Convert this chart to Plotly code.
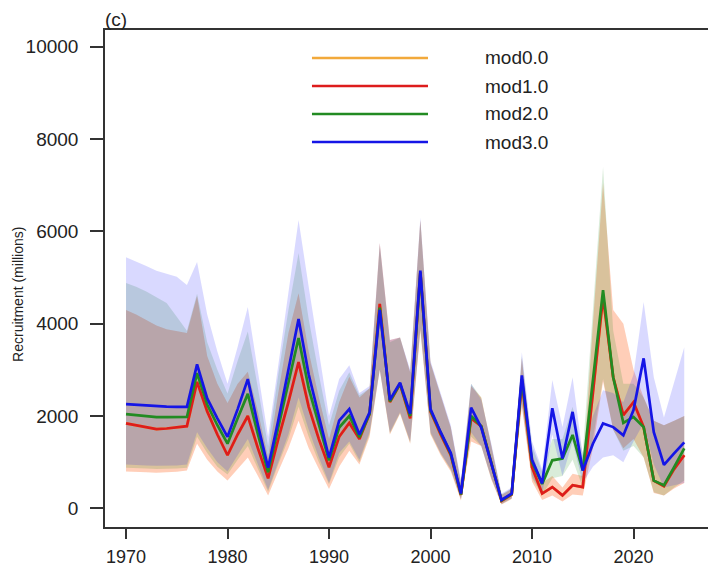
import plotly.graph_objects as go

years = list(range(1970, 2026))

# mod3.0 (blue)
mod3_mid = [2256, 2240, 2225, 2210, 2205, 2200, 2200, 3120, 2380, 1950,
            1550, 2150, 2800, 1800, 880, 1900, 3000, 4100, 2900, 2000,
            1100, 1900, 2150, 1600, 2080, 4300, 2350, 2720, 2050, 5150,
            2150, 1650, 1200, 320, 2180, 1750, 950, 180, 320, 2880,
            1050, 540, 2170, 1080, 2090, 820, 1400, 1840, 1760, 1580,
            2130, 3250, 1650, 940, 1190, 1430]
mod3_lo = [950, 940, 930, 920, 920, 930, 950, 1650, 1300, 1000,
           800, 1150, 1500, 950, 400, 1000, 1600, 2400, 1700, 1100,
           550, 1200, 1450, 1050, 1650, 3000, 1650, 2080, 1450, 3900,
           1650, 1200, 850, 200, 1650, 1350, 650, 100, 220, 2300,
           700, 300, 1600, 700, 1450, 550, 900, 1100, 1150, 1000,
           1450, 1850, 950, 450, 500, 550]
mod3_hi = [5440, 5350, 5250, 5150, 5080, 5020, 4840, 5340, 4200, 3400,
           2700, 3500, 4365, 2950, 1550, 3100, 4700, 6250, 4800, 3400,
           2000, 2800, 3100, 2500, 2650, 5750, 3650, 3700, 3000, 6300,
           3200, 2500, 1800, 600, 2700, 2350, 1400, 320, 450, 3380,
           1450, 850, 2780, 1760, 2840, 1150, 2000, 2560, 2500, 2300,
           2900, 4470, 2840, 1970, 2710, 3490]

# mod2.0 (green)
mod2_mid = [2040, 2020, 2000, 1975, 1975, 1978, 1980, 2930, 2250, 1800,
            1400, 1950, 2480, 1600, 780, 1750, 2750, 3690, 2600, 1800,
            1040, 1750, 2000, 1540, 2050, 4350, 2320, 2700, 2000, 5100,
            2120, 1640, 1180, 300, 2000, 1780, 960, 170, 310, 2800,
            1000, 530, 1040, 1080, 1590, 820, 2770, 4730, 2840, 1850,
            1980, 1760, 600, 500, 890, 1300]
mod2_lo = [880, 870, 860, 850, 850, 860, 880, 1550, 1200, 900,
           730, 1050, 1350, 850, 360, 950, 1500, 2200, 1550, 1000,
           520, 1100, 1400, 1000, 1600, 3000, 1620, 2060, 1420, 3880,
           1620, 1180, 830, 190, 1550, 1350, 640, 90, 210, 2250,
           650, 280, 650, 700, 1050, 450, 1500, 2800, 1700, 1250,
           1350, 1100, 350, 280, 450, 600]
mod2_hi = [4880, 4800, 4700, 4580, 4450, 4150, 3850, 4650, 3600, 3000,
           2490, 3200, 3830, 2600, 1350, 2900, 4300, 5530, 4100, 2900,
           1800, 2550, 2950, 2450, 2600, 5700, 3600, 3700, 2950, 6250,
           3150, 2450, 1750, 550, 2700, 2400, 1350, 300, 430, 3300,
           1350, 800, 1500, 1500, 2200, 1200, 4300, 7400, 3850, 2700,
           2700, 2400, 1900, 1800, 1900, 2000]

# mod1.0 (red)
mod1_mid = [1840, 1800, 1760, 1715, 1730, 1760, 1780, 2740, 2100, 1600,
            1150, 1600, 2000, 1300, 650, 1500, 2300, 3170, 2200, 1500,
            890, 1550, 1850, 1500, 2050, 4430, 2300, 2690, 1950, 5120,
            2100, 1600, 1150, 290, 1950, 1780, 940, 160, 300, 2750,
            890, 320, 460, 280, 500, 460, 2500, 4580, 2840, 2020,
            2300, 1760, 600, 480, 850, 1150]
mod1_lo = [800, 790, 780, 770, 780, 790, 820, 1400, 1050, 800,
           600, 850, 1100, 700, 280, 800, 1300, 1900, 1300, 850,
           420, 900, 1250, 950, 1550, 3000, 1600, 2050, 1400, 3850,
           1600, 1150, 800, 170, 1450, 1350, 620, 80, 200, 2200,
           580, 180, 280, 150, 300, 280, 1300, 2750, 1700, 1300,
           1500, 1100, 330, 280, 430, 550]
mod1_hi = [4300, 4200, 4080, 3960, 3880, 3840, 3800, 4600, 3300, 2700,
           2280, 2700, 2960, 2100, 1100, 2500, 3800, 4660, 3400, 2400,
           1500, 2300, 2850, 2400, 2600, 5750, 3650, 3700, 2950, 6250,
           3150, 2450, 1750, 550, 2650, 2400, 1350, 290, 420, 3250,
           1200, 550, 700, 450, 750, 700, 4000, 7050, 4300, 4000,
           3000, 2400, 1900, 1800, 1900, 2000]

# mod0.0 (orange) coincides with mod1.0
mod0_mid = list(mod1_mid)
mod0_lo = list(mod1_lo)
mod0_hi = list(mod1_hi)

model_names = ["mod0.0", "mod1.0", "mod2.0", "mod3.0"]
y_ticks = [0, 2000, 4000, 6000, 8000, 10000]
y_tick_labels = ["0", "2000", "4000", "6000", "8000", "10000"]
x_ticks = [1970, 1980, 1990, 2000, 2010, 2020]

line_colors = ["#F2A93B", "#DD1C1C", "#228B22", "#1515E6"]
fill_colors = ["rgba(255,165,0,0.15)", "rgba(255,0,0,0.15)",
               "rgba(0,128,0,0.15)", "rgba(0,0,255,0.15)"]

series = [(mod0_mid, mod0_lo, mod0_hi), (mod1_mid, mod1_lo, mod1_hi),
          (mod2_mid, mod2_lo, mod2_hi), (mod3_mid, mod3_lo, mod3_hi)]

fig = go.Figure()
for (mid, lo, hi), fc, name in zip(series, fill_colors, model_names):
    fig.add_trace(go.Scatter(x=years + years[::-1], y=hi + lo[::-1],
                             fill="toself", fillcolor=fc, mode="lines",
                             line=dict(width=0), hoverinfo="skip",
                             showlegend=False, name=name + " CI"))
for (mid, lo, hi), lc, name in zip(series, line_colors, model_names):
    fig.add_trace(go.Scatter(x=years, y=mid, mode="lines",
                             line=dict(color=lc, width=2.7),
                             name=name, showlegend=False))

axis_col = "#333333"
fig.update_xaxes(range=[1967.93, 2028.03], tickvals=x_ticks, ticks="outside",
                 ticklen=10, tickwidth=1.5, tickcolor=axis_col, showline=True,
                 linecolor=axis_col, linewidth=1.5, mirror=True, showgrid=False,
                 zeroline=False, tickfont=dict(size=18, color="#222"),
                 ticklabelstandoff=3, automargin=False)
fig.update_yaxes(range=[-405, 10365], tickvals=y_ticks, ticktext=y_tick_labels,
                 ticks="outside",
                 ticklen=13, tickwidth=1.5, tickcolor=axis_col, showline=True,
                 linecolor=axis_col, linewidth=1.5, mirror=True, showgrid=False,
                 zeroline=False, tickfont=dict(size=19, color="#222"),
                 ticklabelstandoff=8, automargin=False)

shapes = []
annotations = []
leg_y = [0.9437, 0.8873, 0.831, 0.7746]
for name, lc, ly in zip(model_names, line_colors, leg_y):
    shapes.append(dict(type="line", xref="paper", yref="paper",
                       x0=0.3393, x1=0.5295, y0=ly, y1=ly,
                       line=dict(color=lc, width=2.5)))
    annotations.append(dict(text=name, xref="paper", yref="paper",
                            x=0.62, y=ly, xanchor="left", yanchor="middle",
                            showarrow=False, font=dict(size=19, color="#222")))

annotations.append(dict(text="(c)", xref="paper", yref="paper", x=-0.003, y=1.021,
                        xanchor="left", yanchor="middle", showarrow=False,
                        font=dict(size=19, color="#222")))
annotations.append(dict(text="Recruitment (millions)", xref="paper", yref="paper",
                        x=-0.1426, y=0.467, xanchor="center", yanchor="middle",
                        textangle=-90, showarrow=False,
                        font=dict(size=14, color="#222")))

# page body adds an 8px offset; figure size/margins compensate for it
fig.update_layout(width=708, height=560,
                  margin=dict(l=97, r=1, t=22, b=41, autoexpand=False),
                  plot_bgcolor="white", paper_bgcolor="white",
                  showlegend=False, shapes=shapes, annotations=annotations,
                  font=dict(family="Liberation Sans, Arial, sans-serif"))

fig.write_html("out.html")
